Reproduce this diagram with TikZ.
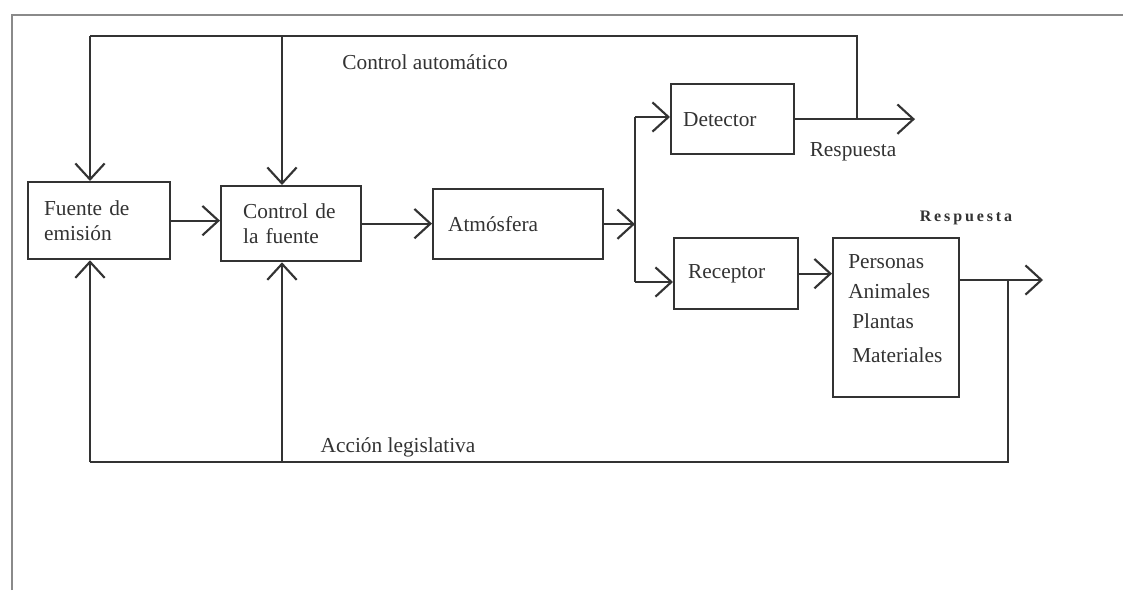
\documentclass[tikz,border=0pt]{standalone}
\usepackage{fontspec}
\setmainfont{Liberation Serif}
\newfontfamily\spacedbf[LetterSpace=18]{Liberation Serif}
\usetikzlibrary{arrows.meta}
\definecolor{ink}{HTML}{333333}
\definecolor{framec}{HTML}{8A8A8A}
\tikzset{
  box/.style={draw=ink, line width=1.7pt, anchor=north west, align=left, inner ysep=0pt,
              font=\fontsize{16}{19}\selectfont, text=ink},
  conn/.style={draw=ink, line width=1.6pt},
  arr/.style={conn, -{Straight Barb[length=12pt,width=22pt,line width=1.6pt]}},
  lab/.style={font=\fontsize{16}{19}\selectfont, text=ink, inner sep=0pt},
  labb/.style={font=\fontsize{12}{14}\spacedbf\bfseries, text=ink, inner sep=0pt},
}
\begin{document}
\begin{tikzpicture}[x=0.75pt,y=-0.75pt]
\useasboundingbox (0,0) rectangle (1123,590);
\fill[white] (0,0) rectangle (1123,590);
% frame
\draw[framec, line width=1.1pt] (12,590) -- (12,15) -- (1123,15);
% boxes
\node[box, minimum width=106.5pt, minimum height=57.75pt, inner xsep=12pt, text width=82.5pt] (fue) at (27,181) {Fuente de\\emisión};
\node[box, minimum width=105pt, minimum height=56.25pt, inner xsep=16.5pt, text width=72pt] (con) at (220,185) {Control de\\la fuente};
\node[box, minimum width=127.5pt, minimum height=52.5pt, inner xsep=11.25pt, text width=105pt] (atm) at (432,188) {Atmósfera};
\node[box, minimum width=92.25pt, minimum height=52.5pt, inner xsep=9pt, text width=74.25pt] (det) at (670,83) {Detector};
\node[box, minimum width=93pt, minimum height=53.25pt, inner xsep=10.5pt, text width=72pt] (rec) at (673,237) {Receptor};
\node[box, minimum width=94.5pt, minimum height=119.25pt, inner sep=0pt] (per) at (832,237) {};
\node[lab, anchor=north west, align=left, font=\fontsize{16}{22.5}\selectfont] (pert) at (848,254) {Personas\\Animales\\\hspace*{3pt}Plantas\\[3pt]\hspace*{3pt}Materiales};
% coordinates
\coordinate (tl) at (90,36);
\coordinate (tm) at (282,36);
\coordinate (tr) at (857,36);
\coordinate (dout) at (915,120);
\coordinate (br) at (635,220);
\coordinate (bt) at (635,117);
\coordinate (bb) at (635,282);
\coordinate (pout) at (1043,280);
\coordinate (bj) at (1008,280);
\coordinate (bq) at (1008,462);
\coordinate (bl) at (90,462);
\coordinate (bm) at (282,462);
% main flow
\draw[arr] (fue.east) -- (fue.east -| con.west);
\draw[arr] (con.east) -- (con.east -| atm.west);
\draw[arr] (atm.east) -- (atm.east -| br);
\draw[conn] (bt) -- (bb);
\draw[arr] (bt) -- (bt -| det.west);
\draw[arr] (bb) -- (bb -| rec.west);
\draw[arr] (rec.east) -- (rec.east -| per.west);
% detector output and automatic control
\draw[arr] (det.east) -- (det.east -| dout);
\draw[conn] (det.east -| tr) -- (tr) -- (tl);
\draw[arr] (tl) -- (tl |- fue.north);
\draw[arr] (tm) -- (tm |- con.north);
% receptor output and legislative action
\draw[arr] (per.east |- pout) -- (pout);
\draw[conn] (bj) -- (bq) -- (bl);
\draw[arr] (bl) -- (bl |- fue.south);
\draw[arr] (bm) -- (bm |- con.south);
% labels
\node[lab] (ca) at (425,62) {Control automático};
\node[lab] (r1) at (853,152) {Respuesta};
\node[labb] (r2) at (966,218) {Respuesta};
\node[lab] (al) at (398,447) {Acción legislativa};
\end{tikzpicture}
\end{document}
